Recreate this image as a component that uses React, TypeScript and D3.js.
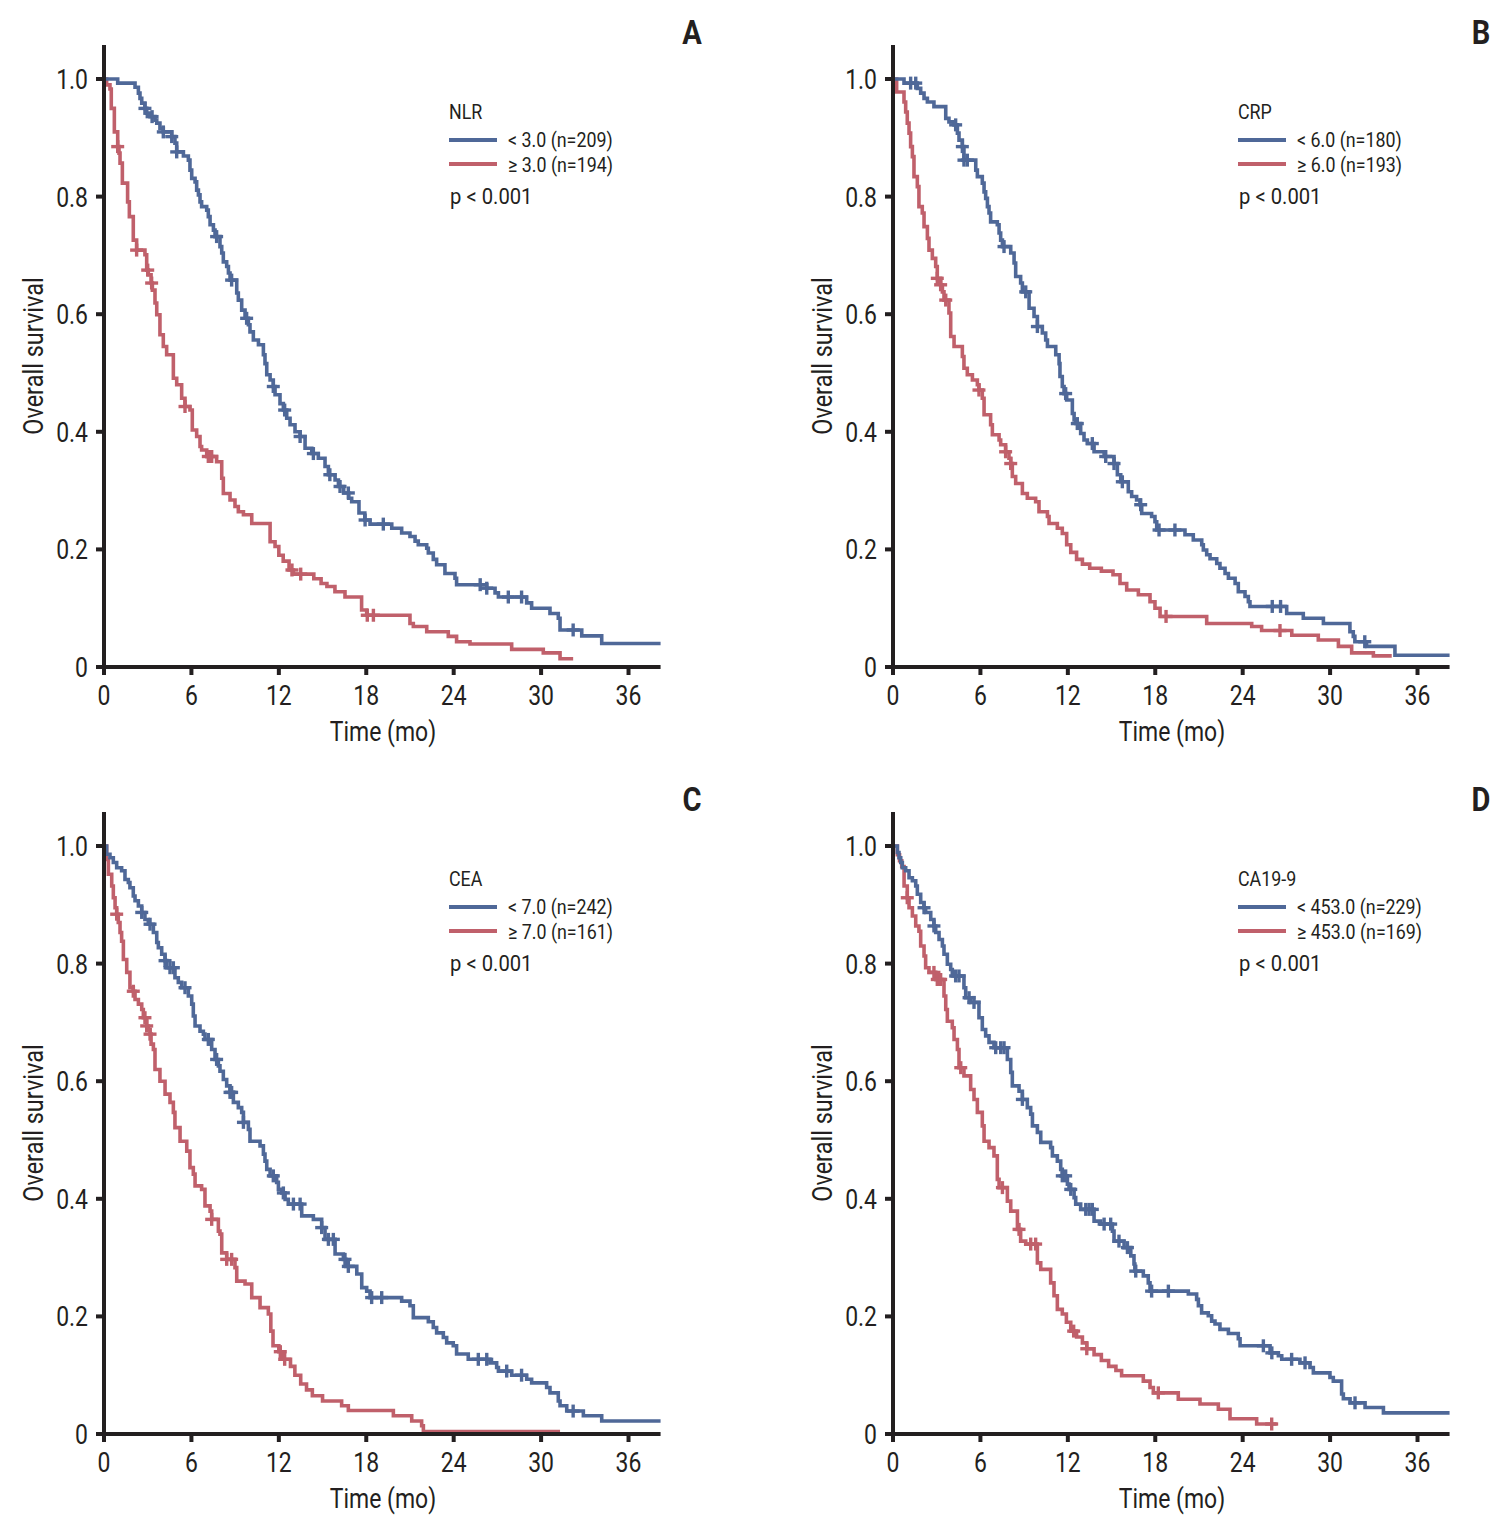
import React from "react";
import * as d3 from "d3";

type Step = [number, number];

const monthTicks = [0, 6, 12, 18, 24, 30, 36];
const survTicks = [0, 0.2, 0.4, 0.6, 0.8, 1.0];
const survTickLabels = ["0", "0.2", "0.4", "0.6", "0.8", "1.0"];

const panelLetters = ["A", "B", "C", "D"];
const markerNames = ["NLR", "CRP", "CEA", "CA19-9"];
const lowLabels = ["< 3.0 (n=209)", "< 6.0 (n=180)", "< 7.0 (n=242)", "< 453.0 (n=229)"];
const highLabels = ["\u2265 3.0 (n=194)", "\u2265 6.0 (n=193)", "\u2265 7.0 (n=161)", "\u2265 453.0 (n=169)"];
const pValues = ["p < 0.001", "p < 0.001", "p < 0.001", "p < 0.001"];

// ---------- A: NLR ----------
const nlrLowSteps: Step[] = [
  [0.94, 0.993], [2.13, 0.986], [2.36, 0.976], [2.47, 0.967], [2.59, 0.959], [2.81, 0.95], [2.93, 0.942],
  [3.16, 0.936], [3.5, 0.93], [3.62, 0.925], [3.84, 0.916], [4.07, 0.91], [4.65, 0.902], [4.87, 0.891],
  [4.99, 0.876], [5.45, 0.869], [5.79, 0.862], [5.9, 0.845], [6.02, 0.831], [6.25, 0.825], [6.36, 0.811],
  [6.48, 0.803], [6.59, 0.791], [6.7, 0.783], [7.05, 0.777], [7.16, 0.766], [7.28, 0.752], [7.51, 0.743],
  [7.62, 0.732], [7.96, 0.715], [8.08, 0.704], [8.19, 0.689], [8.42, 0.681], [8.54, 0.67], [8.65, 0.658],
  [9.11, 0.636], [9.22, 0.624], [9.45, 0.607], [9.68, 0.593], [9.91, 0.582], [10.02, 0.57], [10.25, 0.556],
  [10.6, 0.548], [10.94, 0.531], [11.05, 0.516], [11.17, 0.497], [11.4, 0.488], [11.62, 0.477], [11.74, 0.463],
  [12.08, 0.448], [12.31, 0.437], [12.54, 0.423], [12.77, 0.412], [13.11, 0.4], [13.46, 0.392], [13.8, 0.372],
  [14.26, 0.363], [14.71, 0.355], [15.17, 0.341], [15.4, 0.327], [15.86, 0.318], [16.09, 0.307], [16.45, 0.296],
  [16.8, 0.287], [17.0, 0.281], [17.5, 0.262], [17.9, 0.25], [18.26, 0.243], [19.75, 0.236], [20.43, 0.228],
  [21.0, 0.222], [21.35, 0.214], [21.57, 0.208], [22.15, 0.202], [22.26, 0.194], [22.6, 0.183], [22.83, 0.174],
  [23.4, 0.159], [24.09, 0.151], [24.2, 0.14], [26.27, 0.134], [26.84, 0.126], [27.07, 0.119], [29.01, 0.109],
  [29.35, 0.1], [30.61, 0.091], [31.18, 0.083], [31.3, 0.063], [32.79, 0.053], [34.16, 0.04],
];
const nlrLowEnd = 38.2;
const nlrLowCensor = [2.81, 3.3, 4.07, 4.65, 4.99, 7.73, 8.76, 9.79, 11.62, 12.4, 13.46, 14.37, 15.5, 16.2, 16.77,
  17.92, 19.17, 25.82, 26.27, 27.75, 28.66, 32.2];

const nlrHighSteps: Step[] = [
  [0.18, 0.99], [0.41, 0.983], [0.5, 0.95], [0.71, 0.91], [0.94, 0.885], [1.03, 0.874], [1.1, 0.857],
  [1.26, 0.823], [1.62, 0.791], [1.74, 0.766], [2.01, 0.726], [2.24, 0.709], [2.81, 0.701], [2.93, 0.675],
  [3.04, 0.667], [3.23, 0.653], [3.32, 0.641], [3.5, 0.619], [3.62, 0.599], [3.84, 0.565], [4.07, 0.545],
  [4.3, 0.531], [4.76, 0.491], [4.99, 0.48], [5.33, 0.457], [5.56, 0.443], [5.9, 0.437], [6.06, 0.403],
  [6.36, 0.392], [6.59, 0.375], [6.7, 0.369], [7.05, 0.358], [7.73, 0.349], [8.08, 0.321], [8.19, 0.295],
  [8.65, 0.284], [8.99, 0.273], [9.22, 0.264], [9.57, 0.259], [10.14, 0.244], [11.4, 0.213], [11.74, 0.205],
  [12.0, 0.19], [12.3, 0.18], [12.7, 0.165], [13.0, 0.158], [14.4, 0.15], [14.9, 0.142], [15.3, 0.137],
  [15.85, 0.128], [16.54, 0.119], [17.68, 0.097], [18.03, 0.088], [21.0, 0.074], [21.23, 0.069], [22.15, 0.06],
  [23.63, 0.052], [24.2, 0.043], [25.12, 0.039], [27.98, 0.03], [30.15, 0.024], [31.3, 0.014],
];
const nlrHighEnd = 32.2;
const nlrHighCensor = [0.94, 2.24, 3.0, 3.27, 5.56, 7.16, 7.39, 12.9, 13.5, 18.07, 18.49];

// ---------- B: CRP ----------
const crpLowSteps: Step[] = [
  [0.755, 0.993], [1.67, 0.984], [1.9, 0.976], [2.13, 0.967], [2.36, 0.961], [2.81, 0.953], [3.62, 0.933],
  [3.84, 0.927], [4.19, 0.922], [4.42, 0.908], [4.53, 0.896], [4.76, 0.885], [4.87, 0.862], [5.68, 0.845],
  [5.79, 0.834], [6.13, 0.823], [6.25, 0.808], [6.36, 0.797], [6.48, 0.783], [6.59, 0.772], [6.7, 0.757],
  [7.16, 0.752], [7.28, 0.738], [7.39, 0.726], [7.51, 0.715], [8.08, 0.704], [8.31, 0.687], [8.42, 0.664],
  [8.76, 0.653], [8.88, 0.638], [9.34, 0.61], [9.68, 0.596], [9.91, 0.579], [10.25, 0.568], [10.48, 0.556],
  [10.6, 0.545], [11.17, 0.531], [11.4, 0.516], [11.46, 0.494], [11.62, 0.477], [11.74, 0.465], [11.92, 0.454],
  [12.31, 0.431], [12.43, 0.42], [12.54, 0.414], [12.88, 0.397], [13.11, 0.386], [13.34, 0.38], [13.8, 0.366],
  [14.49, 0.358], [15.17, 0.346], [15.4, 0.327], [15.63, 0.315], [16.15, 0.298], [16.38, 0.29], [16.72, 0.284],
  [16.95, 0.276], [17.07, 0.261], [17.75, 0.256], [17.98, 0.247], [18.1, 0.233], [20.04, 0.225], [20.61, 0.216],
  [21.19, 0.208], [21.3, 0.199], [21.53, 0.191], [21.76, 0.184], [22.22, 0.176], [22.44, 0.168], [22.79, 0.159],
  [23.02, 0.151], [23.48, 0.142], [23.7, 0.128], [24.16, 0.12], [24.39, 0.111], [24.5, 0.103], [27.02, 0.091],
  [28.16, 0.083], [29.54, 0.074], [31.36, 0.06], [31.59, 0.052], [31.7, 0.043], [32.5, 0.035], [34.45, 0.02],
];
const crpLowEnd = 38.2;
const crpLowCensor = [1.21, 1.56, 4.3, 4.76, 4.87, 5.1, 7.62, 9.11, 9.91, 11.85, 12.65, 13.68, 14.6, 15.17, 15.74,
  17.0, 18.26, 19.35, 26.03, 26.6, 32.38];

const crpHighSteps: Step[] = [
  [0.25, 0.978], [0.755, 0.961], [0.87, 0.944], [0.98, 0.925], [1.1, 0.908], [1.21, 0.885], [1.33, 0.868],
  [1.44, 0.834], [1.67, 0.817], [1.78, 0.783], [2.01, 0.772], [2.13, 0.749], [2.36, 0.729], [2.47, 0.709],
  [2.7, 0.695], [2.93, 0.681], [3.04, 0.661], [3.27, 0.65], [3.39, 0.638], [3.5, 0.624], [3.84, 0.602],
  [3.96, 0.562], [4.19, 0.545], [4.76, 0.528], [4.87, 0.508], [5.1, 0.497], [5.45, 0.488], [5.79, 0.48],
  [5.9, 0.471], [6.13, 0.457], [6.25, 0.429], [6.7, 0.412], [6.82, 0.395], [7.28, 0.386], [7.39, 0.378],
  [7.73, 0.366], [7.96, 0.355], [8.08, 0.346], [8.19, 0.324], [8.42, 0.312], [8.88, 0.295], [9.22, 0.287],
  [9.79, 0.281], [10.02, 0.264], [10.6, 0.256], [10.71, 0.244], [11.28, 0.236], [11.62, 0.227], [11.92, 0.208],
  [12.2, 0.195], [12.6, 0.183], [13.0, 0.175], [13.5, 0.168], [14.3, 0.163], [15.1, 0.157], [15.58, 0.142],
  [16.04, 0.131], [16.84, 0.123], [17.64, 0.111], [17.98, 0.1], [18.33, 0.086], [21.53, 0.074], [24.62, 0.069],
  [25.3, 0.062], [27.37, 0.054], [29.19, 0.046], [30.57, 0.035], [31.48, 0.024], [32.97, 0.019],
];
const crpHighEnd = 34.23;
const crpHighCensor = [3.04, 3.27, 3.62, 5.9, 7.73, 8.08, 18.74, 26.56];

// ---------- C: CEA ----------
const ceaLowSteps: Step[] = [
  [0.18, 0.986], [0.41, 0.98], [0.64, 0.972], [0.87, 0.963], [1.21, 0.958], [1.44, 0.943], [1.67, 0.938],
  [1.78, 0.929], [2.01, 0.915], [2.13, 0.907], [2.36, 0.898], [2.59, 0.887], [2.81, 0.875], [3.04, 0.867],
  [3.39, 0.853], [3.62, 0.836], [3.73, 0.827], [3.96, 0.816], [4.19, 0.805], [4.3, 0.793], [4.87, 0.776],
  [5.1, 0.768], [5.33, 0.759], [5.79, 0.745], [6.02, 0.731], [6.13, 0.711], [6.25, 0.694], [6.59, 0.685],
  [6.82, 0.68], [6.93, 0.671], [7.39, 0.654], [7.62, 0.637], [7.85, 0.626], [7.96, 0.617], [8.19, 0.603],
  [8.42, 0.592], [8.65, 0.581], [8.88, 0.564], [9.22, 0.555], [9.45, 0.547], [9.57, 0.53], [9.91, 0.518],
  [10.02, 0.498], [10.71, 0.49], [10.94, 0.476], [11.05, 0.464], [11.17, 0.45], [11.4, 0.439], [11.85, 0.428],
  [11.97, 0.416], [12.2, 0.41], [12.43, 0.399], [12.65, 0.391], [13.57, 0.371], [14.37, 0.365], [14.94, 0.351],
  [15.17, 0.331], [15.86, 0.306], [16.43, 0.297], [16.6, 0.285], [17.35, 0.272], [17.69, 0.249], [18.03, 0.243],
  [18.26, 0.232], [20.43, 0.226], [21.0, 0.218], [21.23, 0.198], [22.26, 0.191], [22.6, 0.181], [22.83, 0.172],
  [23.29, 0.164], [23.52, 0.155], [23.97, 0.15], [24.2, 0.136], [25.0, 0.127], [26.49, 0.121], [26.95, 0.113],
  [27.07, 0.107], [27.98, 0.1], [29.01, 0.093], [29.35, 0.087], [30.38, 0.079], [30.61, 0.07], [31.18, 0.056],
  [31.3, 0.048], [31.76, 0.039], [32.9, 0.031], [34.16, 0.022],
];
const ceaLowEnd = 38.2;
const ceaLowCensor = [2.59, 3.16, 4.19, 4.53, 4.76, 5.56, 7.16, 7.73, 8.65, 8.76, 9.57, 11.62, 12.31, 13.0, 13.46,
  14.94, 15.4, 15.74, 16.54, 16.77, 18.37, 19.06, 25.69, 26.27, 27.64, 28.66, 32.2];

const ceaHighSteps: Step[] = [
  [0.18, 0.977], [0.3, 0.952], [0.53, 0.932], [0.64, 0.912], [0.76, 0.895], [0.87, 0.884], [0.98, 0.87],
  [1.1, 0.853], [1.21, 0.838], [1.33, 0.807], [1.56, 0.785], [1.78, 0.759], [2.01, 0.753], [2.13, 0.739],
  [2.36, 0.731], [2.59, 0.722], [2.7, 0.708], [2.93, 0.694], [3.04, 0.688], [3.16, 0.68], [3.23, 0.663],
  [3.39, 0.654], [3.5, 0.62], [3.84, 0.6], [4.19, 0.578], [4.53, 0.564], [4.76, 0.547], [4.87, 0.521],
  [5.22, 0.498], [5.68, 0.481], [5.9, 0.453], [6.13, 0.442], [6.25, 0.422], [6.7, 0.416], [6.93, 0.388],
  [7.28, 0.379], [7.39, 0.365], [7.85, 0.345], [7.96, 0.34], [8.08, 0.308], [8.42, 0.297], [8.99, 0.283],
  [9.11, 0.26], [9.68, 0.255], [10.14, 0.232], [10.71, 0.215], [11.28, 0.204], [11.45, 0.175], [11.6, 0.15],
  [12.0, 0.14], [12.3, 0.127], [12.8, 0.115], [13.1, 0.1], [13.5, 0.085], [13.9, 0.075], [14.3, 0.065],
  [15.0, 0.056], [16.31, 0.048], [16.77, 0.04], [19.86, 0.031], [21.12, 0.022], [21.8, 0.014], [21.92, 0.004],
];
const ceaHighEnd = 31.3;
const ceaHighCensor = [0.87, 2.01, 2.81, 2.93, 3.16, 7.39, 8.42, 8.76, 12.1, 12.4];

// ---------- D: CA19-9 ----------
const caLowSteps: Step[] = [
  [0.3, 0.989], [0.41, 0.98], [0.53, 0.972], [0.64, 0.963], [0.87, 0.958], [1.1, 0.946], [1.33, 0.941],
  [1.56, 0.932], [1.67, 0.918], [1.9, 0.904], [2.13, 0.895], [2.24, 0.887], [2.59, 0.875], [2.81, 0.864],
  [2.93, 0.853], [3.16, 0.841], [3.39, 0.83], [3.5, 0.816], [3.73, 0.799], [3.96, 0.79], [4.07, 0.779],
  [4.87, 0.759], [4.99, 0.742], [5.33, 0.734], [5.9, 0.708], [6.13, 0.688], [6.36, 0.677], [6.59, 0.666],
  [6.93, 0.657], [7.85, 0.637], [8.08, 0.615], [8.19, 0.592], [8.65, 0.583], [8.88, 0.569], [9.22, 0.555],
  [9.45, 0.544], [9.57, 0.524], [9.91, 0.513], [10.14, 0.496], [10.82, 0.487], [10.94, 0.473], [11.28, 0.464],
  [11.51, 0.45], [11.62, 0.439], [11.97, 0.425], [12.08, 0.416], [12.43, 0.402], [12.54, 0.391], [12.88, 0.382],
  [13.8, 0.362], [14.26, 0.357], [15.06, 0.345], [15.17, 0.328], [15.86, 0.317], [16.32, 0.303], [16.54, 0.289],
  [16.6, 0.277], [17.18, 0.269], [17.52, 0.257], [17.64, 0.243], [20.27, 0.238], [20.84, 0.229], [20.96, 0.218],
  [21.18, 0.206], [21.64, 0.201], [21.87, 0.192], [22.1, 0.187], [22.44, 0.178], [23.02, 0.171], [23.7, 0.162],
  [23.82, 0.15], [25.88, 0.138], [26.45, 0.133], [26.68, 0.127], [27.93, 0.121], [28.62, 0.113], [28.85, 0.104],
  [29.99, 0.096], [30.22, 0.09], [30.79, 0.068], [30.91, 0.06], [31.37, 0.053], [32.4, 0.045], [33.66, 0.036],
];
const caLowEnd = 38.2;
const caLowCensor = [2.13, 2.81, 4.3, 4.53, 5.22, 5.56, 7.05, 7.39, 7.62, 8.88, 11.62, 11.85, 12.2, 13.23, 13.46,
  13.68, 14.49, 14.94, 15.51, 16.09, 16.66, 17.75, 18.9, 25.42, 26.0, 27.36, 28.28, 31.71];

const caHighSteps: Step[] = [
  [0.3, 0.985], [0.45, 0.975], [0.6, 0.965], [0.76, 0.932], [0.98, 0.912], [1.1, 0.895], [1.33, 0.881],
  [1.56, 0.864], [1.78, 0.855], [1.9, 0.83], [2.13, 0.813], [2.24, 0.793], [2.47, 0.785], [2.93, 0.773],
  [3.5, 0.745], [3.62, 0.722], [3.73, 0.702], [4.07, 0.691], [4.19, 0.671], [4.42, 0.654], [4.53, 0.623],
  [4.87, 0.609], [5.33, 0.586], [5.56, 0.569], [5.79, 0.547], [6.13, 0.524], [6.25, 0.498], [6.59, 0.487],
  [6.93, 0.473], [7.16, 0.433], [7.28, 0.419], [7.85, 0.396], [8.08, 0.379], [8.54, 0.348], [8.76, 0.328],
  [9.11, 0.323], [9.91, 0.291], [10.14, 0.28], [10.82, 0.257], [11.05, 0.235], [11.28, 0.212], [11.62, 0.204],
  [11.9, 0.19], [12.2, 0.175], [12.6, 0.165], [13.0, 0.155], [13.3, 0.145], [13.8, 0.135], [14.3, 0.125],
  [14.8, 0.115], [15.3, 0.108], [15.69, 0.099], [17.18, 0.09], [17.64, 0.079], [17.87, 0.07], [19.58, 0.059],
  [21.07, 0.051], [22.33, 0.042], [23.13, 0.026], [24.96, 0.017],
];
const caHighEnd = 26.33;
const caHighCensor = [0.98, 2.81, 3.04, 3.27, 4.65, 7.51, 8.65, 9.45, 9.79, 12.4, 13.3, 18.21, 25.99];

const lowStepsAll = [nlrLowSteps, crpLowSteps, ceaLowSteps, caLowSteps];
const lowEndAll = [nlrLowEnd, crpLowEnd, ceaLowEnd, caLowEnd];
const lowCensorAll = [nlrLowCensor, crpLowCensor, ceaLowCensor, caLowCensor];
const highStepsAll = [nlrHighSteps, crpHighSteps, ceaHighSteps, caHighSteps];
const highEndAll = [nlrHighEnd, crpHighEnd, ceaHighEnd, caHighEnd];
const highCensorAll = [nlrHighCensor, crpHighCensor, ceaHighCensor, caHighCensor];

// ---------- styling / layout ----------
const BLUE = "#4f6898";
const RED = "#c0606b";
const INK = "#231f20";
const FONT = "Roboto, 'Liberation Sans', sans-serif";
const SX = 0.82; // horizontal condensing of the text
const X_MAX = 38.2;
const PX_PER_MONTH = 14.57;
const PLOT_H = 588;

const panelOrigins = [
  { ox: 104, oy: 667 },
  { ox: 893, oy: 667 },
  { ox: 104, oy: 1434 },
  { ox: 893, oy: 1434 },
];

function survAt(steps: Step[], t: number): number {
  let s = 1;
  for (const [ts, v] of steps) if (ts <= t) s = v;
  return s;
}

function CText({ x, y, anchor = "start", size, weight = "normal", rotate = 0, sx = SX, children }: any) {
  const rot = rotate ? ` rotate(${rotate})` : "";
  return (
    <text
      transform={`translate(${x},${y})${rot} scale(${sx},1)`}
      textAnchor={anchor}
      fontSize={size}
      fontWeight={weight}
      fill={INK}
      fontFamily={FONT}
    >
      {children}
    </text>
  );
}

function Curve({ steps, end, censor, x, y, color }: any) {
  const pts: Step[] = [[0, 1], ...steps, [end, steps[steps.length - 1][1]]];
  const line = d3
    .line<Step>()
    .x((d) => x(d[0]))
    .y((d) => y(d[1]))
    .curve(d3.curveStepAfter);
  const h = 6.5;
  return (
    <g>
      <path d={line(pts) || ""} fill="none" stroke={color} strokeWidth={3.6} strokeLinejoin="miter" strokeLinecap="butt" />
      {censor.map((t: number, i: number) => {
        const cx = x(t);
        const cy = y(survAt(steps, t));
        return (
          <g key={i} stroke={color} strokeWidth={3.4}>
            <line x1={cx - h} x2={cx + h} y1={cy} y2={cy} />
            <line x1={cx} x2={cx} y1={cy - h} y2={cy + h} />
          </g>
        );
      })}
    </g>
  );
}

function Panel({ idx }: { idx: number }) {
  const { ox, oy } = panelOrigins[idx];
  const x = d3.scaleLinear().domain([0, X_MAX]).range([ox, ox + X_MAX * PX_PER_MONTH]);
  const y = d3.scaleLinear().domain([0, 1]).range([oy, oy - PLOT_H]);
  const yTop = oy - 622;
  const tickLen = 8;
  return (
    <g>
      <Curve steps={highStepsAll[idx]} end={highEndAll[idx]} censor={highCensorAll[idx]} x={x} y={y} color={RED} />
      <Curve steps={lowStepsAll[idx]} end={lowEndAll[idx]} censor={lowCensorAll[idx]} x={x} y={y} color={BLUE} />
      <line x1={ox} x2={ox} y1={yTop} y2={oy + 2} stroke={INK} strokeWidth={4} />
      <line x1={ox - 2} x2={x(X_MAX)} y1={oy} y2={oy} stroke={INK} strokeWidth={4} />
      {survTicks.map((v, i) => (
        <g key={"y" + i}>
          <line x1={ox - tickLen} x2={ox} y1={y(v)} y2={y(v)} stroke={INK} strokeWidth={4} />
          <CText x={ox - 16} y={y(v) + 10} anchor="end" size={28}>
            {survTickLabels[i]}
          </CText>
        </g>
      ))}
      {monthTicks.map((m, i) => (
        <g key={"x" + i}>
          <line x1={x(m)} x2={x(m)} y1={oy} y2={oy + tickLen} stroke={INK} strokeWidth={4} />
          <CText x={x(m)} y={oy + 38} anchor="middle" size={28}>
            {m}
          </CText>
        </g>
      ))}
      <CText x={ox + 279} y={oy + 74} anchor="middle" size={28}>
        Time (mo)
      </CText>
      <CText x={ox - 61} y={oy - 311} anchor="middle" size={28} rotate={-90} sx={0.84}>
        Overall survival
      </CText>
      <CText x={ox + 588} y={oy - 623} anchor="middle" size={33} weight="bold" sx={0.88}>
        {panelLetters[idx]}
      </CText>
      <CText x={ox + 345} y={oy - 548} size={21} sx={0.85}>
        {markerNames[idx]}
      </CText>
      <line x1={ox + 345} x2={ox + 393} y1={oy - 527} y2={oy - 527} stroke={BLUE} strokeWidth={4} />
      <CText x={ox + 404} y={oy - 520} size={21} sx={0.85}>
        {lowLabels[idx]}
      </CText>
      <line x1={ox + 345} x2={ox + 393} y1={oy - 503} y2={oy - 503} stroke={RED} strokeWidth={4} />
      <CText x={ox + 404} y={oy - 495} size={21} sx={0.85}>
        {highLabels[idx]}
      </CText>
      <CText x={ox + 346} y={oy - 463} size={22} sx={0.92}>
        {pValues[idx]}
      </CText>
    </g>
  );
}

export default function App() {
  return (
    <svg
      width={1506}
      height={1528}
      viewBox="0 0 1506 1528"
      style={{ position: "absolute", left: 0, top: 0, display: "block", background: "#fff" }}
    >
      <rect x={0} y={0} width={1506} height={1528} fill="#fff" />
      {[0, 1, 2, 3].map((i) => (
        <Panel key={i} idx={i} />
      ))}
    </svg>
  );
}
